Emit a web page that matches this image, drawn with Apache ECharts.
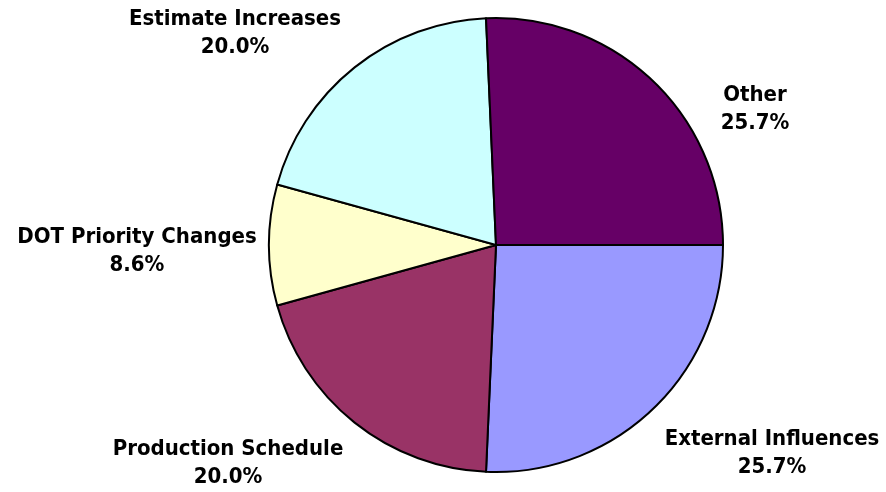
<!DOCTYPE html>
<html>
<head>
<meta charset="utf-8">
<script src="https://cdn.jsdelivr.net/npm/echarts@6/dist/echarts.min.js"></script>
<style>
  html, body { margin: 0; padding: 0; background: #ffffff; }
  #chart { width: 886px; height: 492px; }
</style>
</head>
<body>
<div id="chart"></div>
<script>
// Slice names and shares (percent), listed clockwise from 3 o'clock
const categories = ['External Influences', 'Production Schedule', 'DOT Priority Changes', 'Estimate Increases', 'Other'];
const shares = [25.7, 20.0, 8.6, 20.0, 25.7];
const sliceColors = ['#9999FF', '#993366', '#FFFFCC', '#CCFFFF', '#660066'];

// Label block centres, as [dx, dy] offsets from the pie centre
const labelOffsets = [[276, 208], [-268, 218], [-359, 6], [-261, -212], [259, -136]];

const pieCenter = [496, 245];
const pieRadius = 227;

const chart = echarts.init(document.getElementById('chart'), null, { renderer: 'canvas' });

chart.setOption({
  animation: false,
  backgroundColor: '#ffffff',
  series: [{
    type: 'pie',
    center: pieCenter,
    radius: pieRadius,
    startAngle: 0,
    clockwise: true,
    avoidLabelOverlap: false,
    data: categories.map((name, i) => ({
      name: name,
      value: shares[i],
      itemStyle: { color: sliceColors[i] }
    })),
    itemStyle: { borderColor: '#000000', borderWidth: 2 },
    label: {
      show: true,
      position: 'outside',
      formatter: p => p.name + '\n' + p.value.toFixed(1) + '%',
      color: '#000000',
      fontFamily: "'DejaVu Sans Condensed', 'DejaVu Sans'",
      fontWeight: 'bold',
      fontSize: 22,
      lineHeight: 28,
      align: 'center'
    },
    labelLine: { show: false },
    labelLayout: params => {
      const off = labelOffsets[params.dataIndex];
      return {
        x: pieCenter[0] + off[0],
        y: pieCenter[1] + off[1],
        align: 'center',
        verticalAlign: 'middle'
      };
    },
    emphasis: { disabled: true }
  }]
});
</script>
</body>
</html>
